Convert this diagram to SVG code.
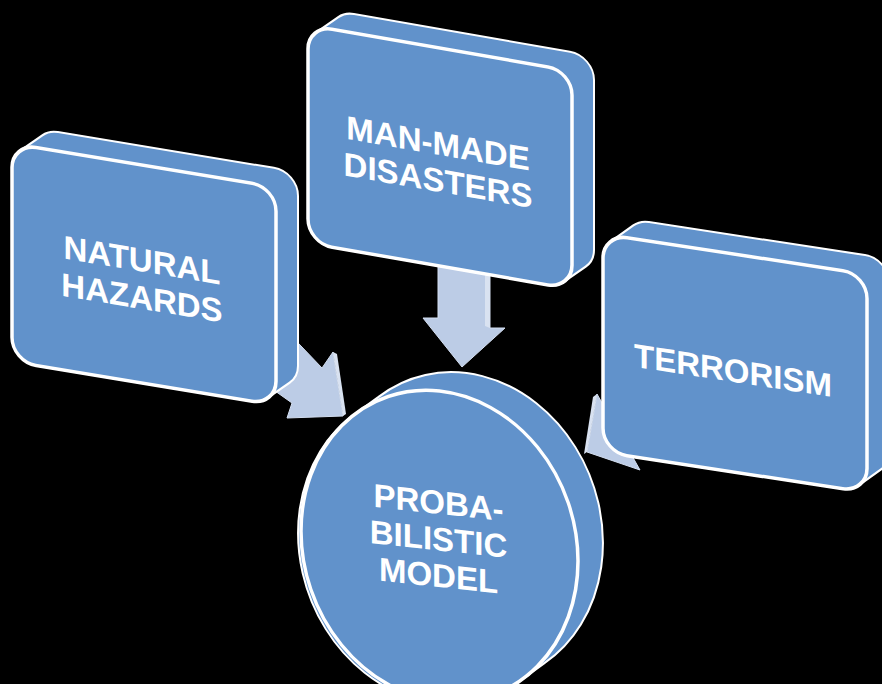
<svg xmlns="http://www.w3.org/2000/svg" width="882" height="684" viewBox="0 0 882 684">
<style>
.hull{fill:#6192CB;stroke:#fff;stroke-width:2}
.face{fill:#6192CB;stroke:#fff;stroke-width:3.5}
.lbl{font-family:"Liberation Sans",Arial,sans-serif;font-weight:bold;font-size:33px;fill:#fff;text-anchor:middle}
.arrow{fill:#BCCCE6;stroke:#D3DEF0;stroke-width:1}
.side{fill:#D9E2F1}
</style>
<defs>
<path id="boxHull" d="M0,194 V24 A24,24 0 0 1 8.31,5.84 L30.31,-13.16 A24,24 0 0 1 46,-19 H262 A24,24 0 0 1 286,5 V175 A24,24 0 0 1 277.69,193.16 L255.69,212.16 A24,24 0 0 1 240,218 H24 A24,24 0 0 1 0,194 Z"/>
<rect id="boxFace" x="0" y="0" width="264" height="218" rx="24" ry="24"/>
</defs>
<rect width="882" height="684" fill="#000"/>
<g id="connectors">
  <polygon class="arrow" points="280,324 322,368 333,352 343,416 287,418 292,403 268,386"/>
  <polygon class="side" points="333,352 337,354 346,414 343,416"/>
  <polygon class="arrow" points="438,255 438,318 423,318 462,367 505,328 490,328 490,255"/>
  <polygon class="side" points="485,255 490,255 490,328 485,326"/>
  <polygon class="arrow" points="641.7,392 607.7,413 597,394 587,452 640,470 629.3,451 663.3,430"/>
  <polygon class="side" points="597,394 593,397 584,454 587,452"/>
</g>
<g id="natural-hazards" transform="translate(12,143.5) skewY(9.4)">
  <use href="#boxHull" class="hull"/>
  <use href="#boxFace" class="face"/>
  <text class="lbl" x="130" y="106.5">NATURAL</text>
  <text class="lbl" x="130" y="144">HAZARDS</text>
</g>
<g id="man-made-disasters" transform="translate(308,25) skewY(9.9)">
  <use href="#boxHull" class="hull"/>
  <use href="#boxFace" class="face"/>
  <text class="lbl" x="130" y="107">MAN-MADE</text>
  <text class="lbl" x="130" y="144">DISASTERS</text>
</g>
<g id="terrorism" transform="translate(603,234) skewY(8.7)">
  <use href="#boxHull" class="hull"/>
  <use href="#boxFace" class="face"/>
  <text class="lbl" x="130" y="128">TERRORISM</text>
</g>
<g id="probabilistic-model" transform="translate(439.5,546) skewY(6.2)">
  <path class="hull" d="M-82.9,-124.1 L-60.9,-142.5 A138.5,155 0 1 1 104.9,105.7 L82.9,124.1 A138.5,155 0 1 1 -82.9,-124.1 Z"/>
  <ellipse class="face" cx="0" cy="0" rx="138.5" ry="155"/>
  <text class="lbl" x="-1" y="-32">PROBA-</text>
  <text class="lbl" x="-1" y="4.5">BILISTIC</text>
  <text class="lbl" x="-1" y="41">MODEL</text>
</g>
</svg>
